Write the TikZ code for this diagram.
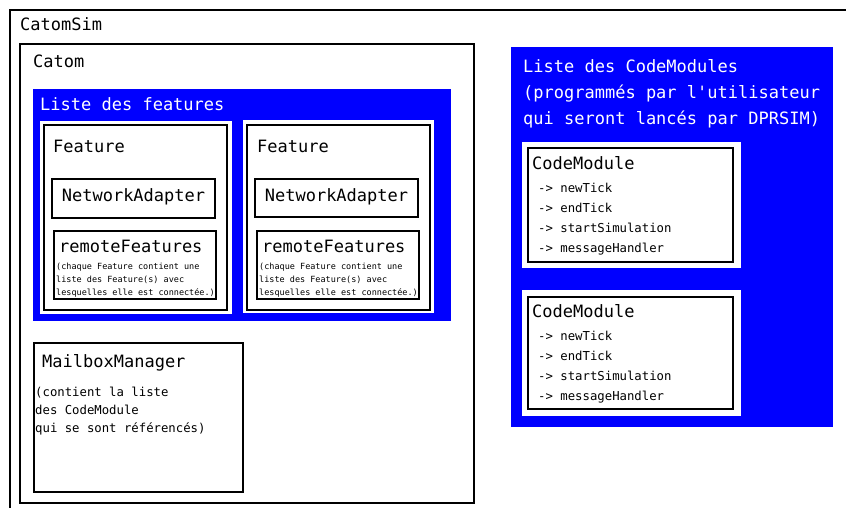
\documentclass[tikz,border=0pt]{standalone}
\usepackage{fontspec}
\newfontfamily\monofont{DejaVu Sans Mono}
\definecolor{pureblue}{RGB}{0,0,255}
\begin{document}
\begin{tikzpicture}[x=1pt,y=-1pt,
  frame/.style={draw=black, line width=1.4pt, inner sep=0pt, outer sep=0pt, anchor=north west},
  bluepanel/.style={fill=pureblue, draw=none, inner sep=0pt, outer sep=0pt, anchor=north west},
  whitepanel/.style={fill=white, draw=none, inner sep=0pt, outer sep=0pt, anchor=north west},
  head/.style={anchor=base west, inner sep=0pt, font=\monofont\fontsize{17}{20}\selectfont},
  headw/.style={head, text=white},
  item/.style={anchor=base west, inner sep=0pt, font=\monofont\fontsize{12.3}{14}\selectfont},
  tiny/.style={anchor=base west, inner sep=0pt, font=\monofont\fontsize{8.5}{10}\selectfont}
]
\useasboundingbox (0,0) rectangle (846,507);
\clip (0,0) rectangle (846,507);
\fill[white] (0,0) rectangle (846,507);

% CatomSim (cut off at right and bottom)
\node[frame, minimum width=860pt, minimum height=520pt] (catomsim) at (10,10) {};
\node[head] (catomsimlbl) at (20,30) {CatomSim};

% Catom
\node[frame, minimum width=454pt, minimum height=459pt] (catom) at (20,44) {};
\node[head] (catomlbl) at (33,67) {Catom};

% Liste des features
\node[bluepanel, minimum width=418pt, minimum height=232pt] (features) at (33,89) {};
\node[headw] (featureslbl) at (40,110) {Liste des features};

% Feature 1
\node[whitepanel, minimum width=192pt, minimum height=193pt] (f1bg) at (40,121) {};
\node[frame, minimum width=183pt, minimum height=185pt] (f1) at (44,125) {};
\node[head] (f1lbl) at (53,152) {Feature};
\node[frame, minimum width=163pt, minimum height=39pt] (na1) at (52,179) {};
\node[head, anchor=base] (na1lbl) at (133.5,201) {NetworkAdapter};
\node[frame, minimum width=162pt, minimum height=68pt] (rf1) at (54,231) {};
\node[head] (rf1lbl) at (59,252) {remoteFeatures};
\node[tiny] (rf1a) at (56,269) {(chaque Feature contient une};
\node[tiny] (rf1b) at (56,282) {liste des Feature(s) avec};
\node[tiny] (rf1c) at (56,295.5) {lesquelles elle est connectée.)};

% Feature 2
\node[whitepanel, minimum width=191pt, minimum height=193pt] (f2bg) at (243,120) {};
\node[frame, minimum width=183pt, minimum height=185pt] (f2) at (247,125) {};
\node[head] (f2lbl) at (257,152) {Feature};
\node[frame, minimum width=163pt, minimum height=38pt] (na2) at (255,179) {};
\node[head, anchor=base] (na2lbl) at (336.5,201) {NetworkAdapter};
\node[frame, minimum width=162pt, minimum height=68pt] (rf2) at (257,231) {};
\node[head] (rf2lbl) at (262,252) {remoteFeatures};
\node[tiny] (rf2a) at (259,269) {(chaque Feature contient une};
\node[tiny] (rf2b) at (259,282) {liste des Feature(s) avec};
\node[tiny] (rf2c) at (259,295.5) {lesquelles elle est connectée.)};

% MailboxManager
\node[frame, minimum width=209pt, minimum height=149pt] (mbm) at (34,343) {};
\node[head] (mbmlbl) at (42,367) {MailboxManager};
\node[item] (mbma) at (35,396) {(contient la liste};
\node[item] (mbmb) at (35,414) {des CodeModule};
\node[item] (mbmc) at (35,432) {qui se sont référencés)};

% Liste des CodeModules
\node[bluepanel, minimum width=322pt, minimum height=380pt] (cms) at (511,47) {};
\node[headw] (cmsa) at (523,72) {Liste des CodeModules};
\node[headw] (cmsb) at (523,98) {(programmés par l'utilisateur};
\node[headw] (cmsc) at (523,124) {qui seront lancés par DPRSIM)};

% CodeModule 1
\node[whitepanel, minimum width=219pt, minimum height=126pt] (cm1bg) at (522,142) {};
\node[frame, minimum width=205pt, minimum height=114pt] (cm1) at (528,148) {};
\node[head] (cm1lbl) at (532,169) {CodeModule};
\node[item] (cm1a) at (538,192) {-> newTick};
\node[item] (cm1b) at (538,212) {-> endTick};
\node[item] (cm1c) at (538,232) {-> startSimulation};
\node[item] (cm1d) at (538,252) {-> messageHandler};

% CodeModule 2
\node[whitepanel, minimum width=219pt, minimum height=126pt] (cm2bg) at (522,290) {};
\node[frame, minimum width=205pt, minimum height=112pt] (cm2) at (528,297) {};
\node[head] (cm2lbl) at (532,317) {CodeModule};
\node[item] (cm2a) at (538,340) {-> newTick};
\node[item] (cm2b) at (538,360) {-> endTick};
\node[item] (cm2c) at (538,380) {-> startSimulation};
\node[item] (cm2d) at (538,400) {-> messageHandler};
\end{tikzpicture}
\end{document}
